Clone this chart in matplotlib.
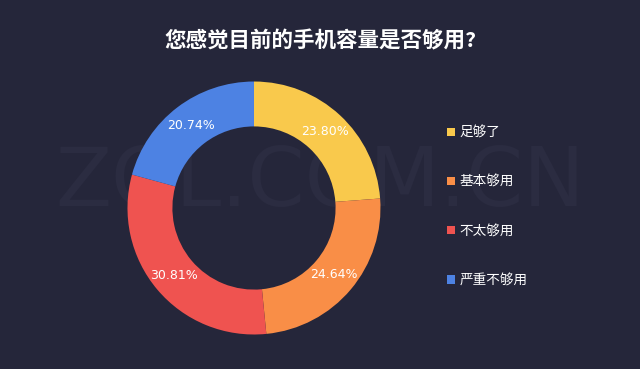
import matplotlib
matplotlib.use("Agg")
import matplotlib.pyplot as plt
import numpy as np

plt.rcParams["font.family"] = ["Noto Sans CJK SC", "DejaVu Sans"]

categories = ["足够了", "基本够用", "不太够用", "严重不够用"]
shares = [23.80, 24.64, 30.81, 20.74]
colors = ["#f9c94c", "#f98e47", "#ef5350", "#4d82e3"]
title = "您感觉目前的手机容量是否够用?"
bg = "#25263a"

fig = plt.figure(figsize=(6.4, 3.69), dpi=100)
fig.patch.set_facecolor(bg)

# faint watermark behind everything
fig.text(0.5, 0.503, "ZOL.COM.CN", ha="center", va="center", fontsize=59,
         color="#2b2c41", family="DejaVu Sans", zorder=-5)

ax = fig.add_axes([0.1992, 0.0935, 0.3953, 0.6856])
ax.set_facecolor("none")
ax.set_zorder(2)
wedges, _ = ax.pie(shares, colors=colors, startangle=90, counterclock=False,
                   radius=1.0, wedgeprops=dict(width=0.355, linewidth=0))
ax.set_xlim(-1, 1)
ax.set_ylim(-1, 1)
ax.set_aspect("auto")
ax.axis("off")

for w, v in zip(wedges, shares):
    mid = np.deg2rad((w.theta1 + w.theta2) / 2)
    r = 0.823
    ax.text(r * np.cos(mid), r * np.sin(mid), f"{v:.2f}%", ha="center", va="center",
            fontsize=9, color="white", family="DejaVu Sans")

fig.text(0.5, 0.888, title, ha="center", va="center", fontsize=15.5,
         fontweight="bold", color="white")

leg = fig.legend(wedges, categories, loc="upper left", bbox_to_anchor=(0.68, 0.692),
                 frameon=False, fontsize=9.8, labelcolor="white", handlelength=0.55,
                 handleheight=0.55, handletextpad=0.35, labelspacing=2.58)
leg.set_zorder(3)

fig.savefig("out.png", dpi=100, facecolor=bg)
